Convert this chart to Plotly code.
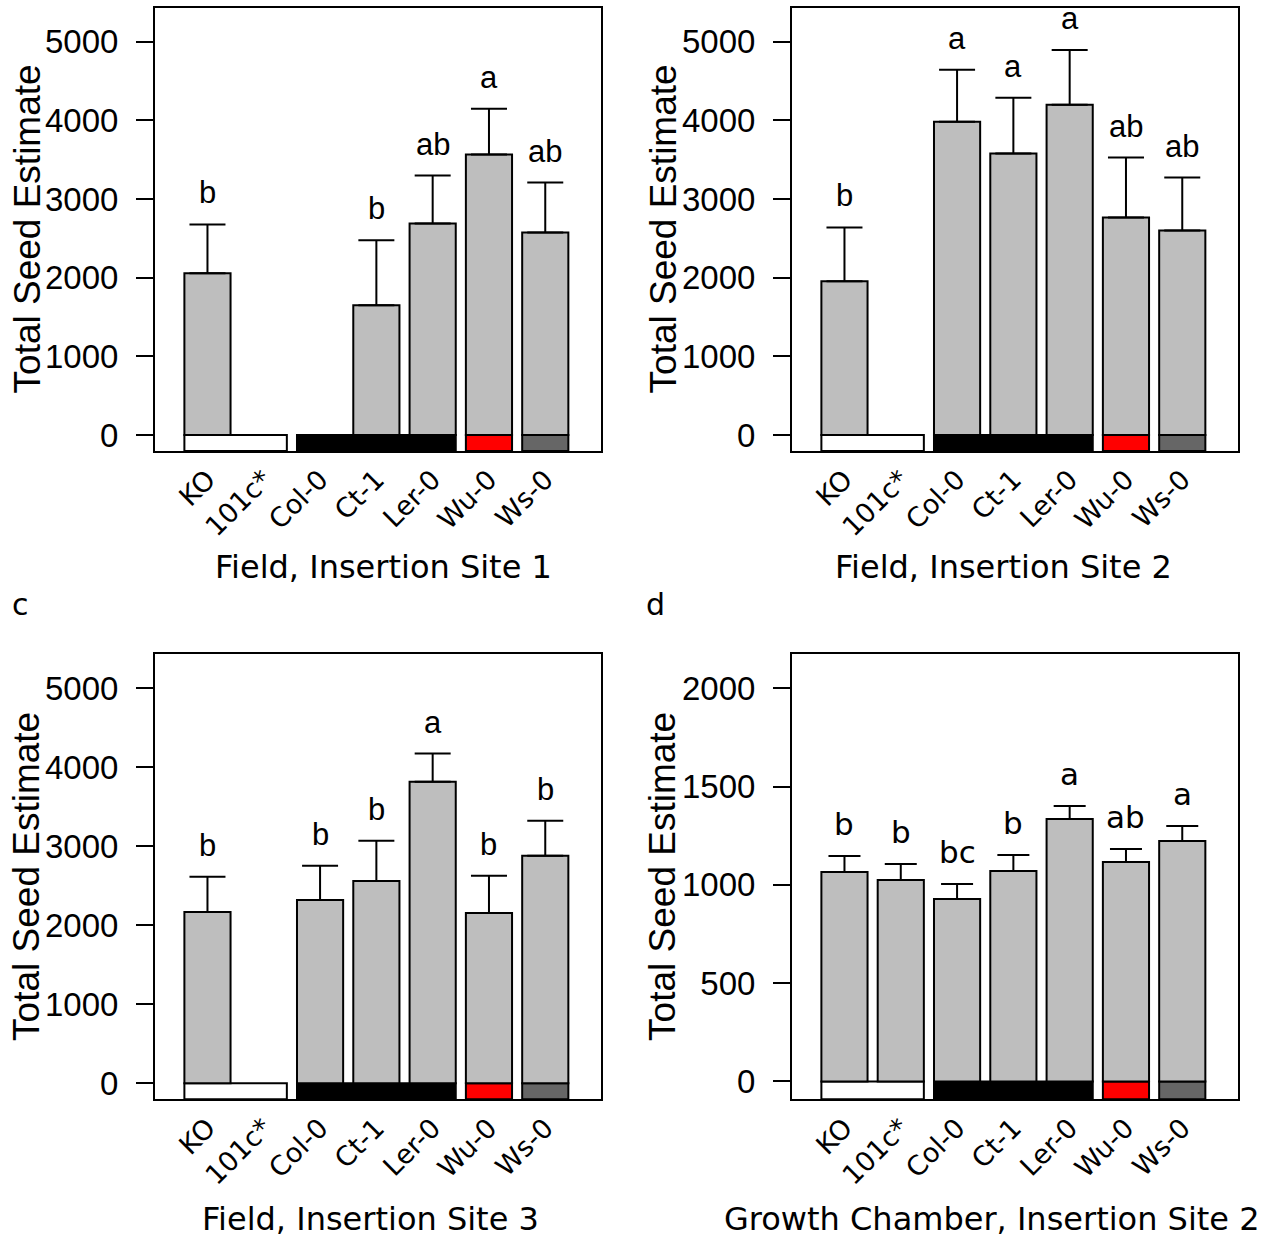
import plotly.graph_objects as go

# Genotypes along the x axis of every panel
genotypes = ["KO", "101c*", "Col-0", "Ct-1", "Ler-0", "Wu-0", "Ws-0"]

# Field, insertion site 1 (None = genotype not grown)
site1_mean = [2056, None, None, 1650, 2690, 3566, 2576]
site1_err = [622, None, None, 825, 610, 584, 635]
site1_letters = ["b", "", "", "b", "ab", "a", "ab"]

# Field, insertion site 2
site2_mean = [1954, None, 3985, 3579, 4200, 2766, 2602]
site2_err = [686, None, 660, 710, 698, 762, 672]
site2_letters = ["b", "", "a", "a", "a", "ab", "ab"]

# Field, insertion site 3
site3_mean = [2170, None, 2322, 2563, 3820, 2157, 2880]
site3_err = [444, None, 432, 508, 355, 470, 445]
site3_letters = ["b", "", "b", "b", "a", "b", "b"]

# Growth chamber, insertion site 2
chamber_mean = [1066, 1025, 929, 1071, 1335, 1117, 1223]
chamber_err = [81, 82, 76, 81, 66, 66, 77]
chamber_letters = ["b", "b", "bc", "b", "a", "ab", "a"]

# Background colour strip below zero: genotype groups and their fills
strip_groups = [["KO", "101c*"], ["Col-0", "Ct-1", "Ler-0"], ["Wu-0"], ["Ws-0"]]
strip_colors = ["white", "black", "#ff0000", "#666666"]

panel_titles = [
    "Field, Insertion Site 1",
    "Field, Insertion Site 2",
    "Field, Insertion Site 3",
    "Growth Chamber, Insertion Site 2",
]

W, H = 1268, 1241
BAR_W = 0.82
ARIAL = "Liberation Sans, Arial, sans-serif"
VERD = "DejaVu Sans, Verdana, sans-serif"


def px_x(p):
    return p / W


def px_y(p):
    return 1 - p / H


panels = [
    dict(mean=site1_mean, err=site1_err, letters=site1_letters,
         box=(155, 601, 8, 452), yr=(-203, 5431), dtick=1000,
         cap=18, letter_font=ARIAL, title_x=383, title_y=568, ytitle_x=27),
    dict(mean=site2_mean, err=site2_err, letters=site2_letters,
         box=(792, 1238, 8, 452), yr=(-203, 5431), dtick=1000,
         cap=18, letter_font=ARIAL, title_x=1003, title_y=568, ytitle_x=663),
    dict(mean=site3_mean, err=site3_err, letters=site3_letters,
         box=(155, 601, 656, 1102), yr=(-203, 5431), dtick=1000,
         cap=18, letter_font=ARIAL, title_x=370, title_y=1222, ytitle_x=27),
    dict(mean=chamber_mean, err=chamber_err, letters=chamber_letters,
         box=(792, 1238, 656, 1102), yr=(-91, 2173), dtick=500,
         cap=16, letter_font=VERD, title_x=992, title_y=1222, ytitle_x=663),
]

fig = go.Figure()
annotations = []

for k, p in enumerate(panels):
    axn = "" if k == 0 else str(k + 1)
    xa, ya = "x" + axn, "y" + axn
    x0, x1, y0, y1 = p["box"]
    ylo, yhi = p["yr"]

    # coloured strip from zero down to the bottom of the plotting region
    sx, sw, sc = [], [], []
    for grp, col in zip(strip_groups, strip_colors):
        idx = [genotypes.index(g) for g in grp]
        left, right = min(idx) - BAR_W / 2, max(idx) + BAR_W / 2
        sx.append((left + right) / 2)
        sw.append(right - left)
        sc.append(col)
    fig.add_trace(go.Bar(
        x=sx, y=[ylo] * len(sx), width=sw, base=0,
        marker=dict(color=sc, line=dict(color="black", width=2)),
        xaxis=xa, yaxis=ya, showlegend=False, hoverinfo="skip"))

    # grey mean bars with upward standard-error whiskers
    idx = [i for i, m in enumerate(p["mean"]) if m is not None]
    means = [p["mean"][i] for i in idx]
    errs = [p["err"][i] for i in idx]
    fig.add_trace(go.Bar(
        x=idx, y=means, width=BAR_W,
        marker=dict(color="#bebebe", line=dict(color="black", width=2)),
        error_y=dict(type="data", array=errs, arrayminus=[0] * len(errs),
                     symmetric=False, color="black", thickness=2,
                     width=p["cap"]),
        xaxis=xa, yaxis=ya, showlegend=False))

    # significance letters above the whiskers
    for i in idx:
        annotations.append(dict(
            x=i, y=p["mean"][i] + p["err"][i], xref=xa, yref=ya,
            text=p["letters"][i], showarrow=False, yanchor="bottom",
            yshift=12, font=dict(family=p["letter_font"], size=31,
                                 color="black")))

    axis_common = dict(showline=True, linecolor="black", linewidth=2,
                       mirror=True, showgrid=False, zeroline=False)
    fig.update_layout({
        "xaxis" + axn: dict(
            domain=[px_x(x0), px_x(x1)], range=[-0.932, 6.99],
            tickmode="array", tickvals=list(range(len(genotypes))),
            ticktext=genotypes, tickangle=-45, ticks="",
            ticklabelstandoff=0,
            tickfont=dict(family=VERD, size=27, color="black"),
            anchor=ya, **axis_common),
        "yaxis" + axn: dict(
            domain=[px_y(y1), px_y(y0)], range=[ylo, yhi],
            tickmode="linear", tick0=0, dtick=p["dtick"],
            ticks="outside", ticklen=17, tickwidth=2, tickcolor="black",
            ticklabelstandoff=11,
            tickfont=dict(family=ARIAL, size=33, color="black"),
            anchor=xa, **axis_common),
    })

    # axis titles
    annotations.append(dict(
        x=px_x(p["ytitle_x"]), y=px_y((y0 + y1) / 2), xref="paper",
        yref="paper", text="Total Seed Estimate", textangle=-90,
        showarrow=False, xanchor="center", yanchor="middle",
        font=dict(family=ARIAL, size=37, color="black")))
    annotations.append(dict(
        x=px_x(p["title_x"]), y=px_y(p["title_y"]), xref="paper",
        yref="paper", text=panel_titles[k], showarrow=False,
        xanchor="center", yanchor="middle",
        font=dict(family=VERD, size=32, color="black")))

# panel letters
for lab, lx in (("c", 20), ("d", 655)):
    annotations.append(dict(
        x=px_x(lx), y=px_y(606), xref="paper", yref="paper", text=lab,
        showarrow=False, xanchor="center", yanchor="middle",
        font=dict(family=VERD, size=30, color="black")))

fig.update_layout(
    width=W, height=H, margin=dict(l=0, r=0, t=0, b=0),
    paper_bgcolor="white", plot_bgcolor="white",
    barmode="overlay", annotations=annotations, showlegend=False)

fig.write_html("out.html")
